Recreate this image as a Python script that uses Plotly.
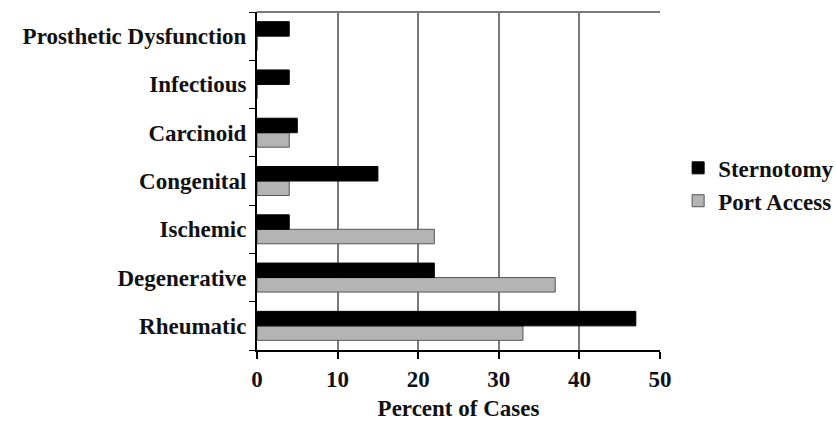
import plotly.graph_objects as go

categories = ["Rheumatic", "Degenerative", "Ischemic", "Congenital",
              "Carcinoid", "Infectious", "Prosthetic Dysfunction"]
sternotomy = [47, 22, 4, 15, 5, 4, 4]
port_access = [33, 37, 22, 4, 4, 0, 0]
x_ticks = [0, 10, 20, 30, 40, 50]

FONT = "'Liberation Serif', 'Times New Roman', 'DejaVu Serif', serif"
TXT = "#111111"
FS = 23

fig = go.Figure()
fig.add_trace(go.Bar(
    y=categories, x=port_access, orientation="h", name="<b>Port Access</b>",
    marker=dict(color="#b4b4b4", line=dict(color="#555555", width=1)),
    legendrank=2,
))
fig.add_trace(go.Bar(
    y=categories, x=sternotomy, orientation="h", name="<b>Sternotomy</b>",
    marker=dict(color="#000000", line=dict(color="#000000", width=1)),
    legendrank=1,
))

fig.update_layout(
    width=836, height=421,
    margin=dict(l=257, r=176, t=12, b=71, autoexpand=False),
    paper_bgcolor="white", plot_bgcolor="white",
    barmode="group", bargap=0.4, bargroupgap=0,
    font=dict(family=FONT, size=FS, color=TXT),
    showlegend=True,
    legend=dict(x=1.045, xanchor="left", y=0.49, yanchor="middle",
                font=dict(family=FONT, size=FS, color=TXT),
                itemwidth=30, tracegroupgap=0, bgcolor="rgba(0,0,0,0)"),
    xaxis=dict(
        range=[0, 50], tickvals=x_ticks, ticktext=["<b>%d</b>" % v for v in x_ticks],
        showgrid=True, gridcolor="#7a7a7a", gridwidth=2,
        zeroline=False, showline=True, linecolor="#000000", linewidth=2,
        ticks="outside", ticklen=7, tickwidth=2, tickcolor="#000000",
        tickfont=dict(family=FONT, size=FS, color=TXT),
        title=dict(text="<b>Percent of Cases</b>", standoff=12,
                   font=dict(family=FONT, size=FS, color=TXT)),
        automargin=False, fixedrange=True,
    ),
    yaxis=dict(
        categoryorder="array", categoryarray=categories,
        tickvals=categories, ticktext=["<b>%s</b>" % c for c in categories],
        showline=True, linecolor="#000000", linewidth=2,
        ticks="outside", ticklen=6, tickwidth=1, tickcolor="#000000",
        tickson="boundaries", showgrid=False,
        tickfont=dict(family=FONT, size=FS, color=TXT),
        ticklabelstandoff=4,
        automargin=False, fixedrange=True,
    ),
)

fig.add_shape(type="line", xref="paper", yref="paper", x0=0, x1=1, y0=1, y1=1,
              line=dict(color="#7a7a7a", width=2))

fig.write_html("out.html", config={"displayModeBar": False},
               post_script="document.body.style.margin='0';document.body.style.padding='0';")
